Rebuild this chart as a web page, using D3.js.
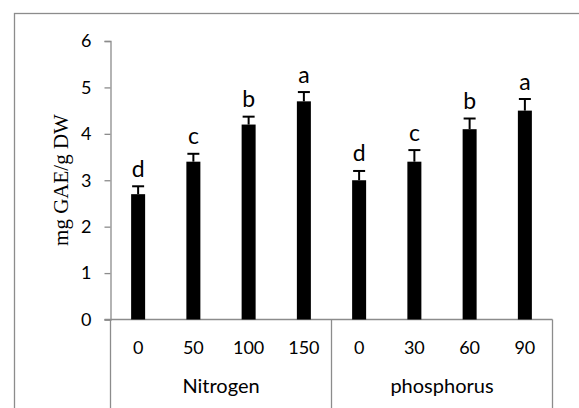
<!DOCTYPE html>
<html>
<head>
<meta charset="utf-8">
<script src="https://cdn.jsdelivr.net/npm/d3@7"></script>
<style>
  body { margin: 0; background: #fff; }
  svg { display: block; }
</style>
</head>
<body>
<div id="chart"></div>
<script>
// data
var groups = ["Nitrogen", "phosphorus"];
var doses = ["0", "50", "100", "150", "0", "30", "60", "90"];
var groupOf = [0, 0, 0, 0, 1, 1, 1, 1];
var values = [2.7, 3.4, 4.2, 4.7, 3.0, 3.4, 4.1, 4.5];
var errors = [0.17, 0.17, 0.17, 0.2, 0.2, 0.25, 0.23, 0.25];
var letters = ["d", "c", "b", "a", "d", "c", "b", "a"];
var yTicks = [0, 1, 2, 3, 4, 5, 6];

var width = 579, height = 408;
var axisColor = "#8c8c8c";
var sans = "Lato, 'Open Sans', sans-serif";

var svg = d3.select("#chart")
    .append("svg")
    .attr("width", width)
    .attr("height", height);

// outer chart frame (cut by the picture edge)
svg.append("rect")
    .attr("x", 14.5)
    .attr("y", 13.5)
    .attr("width", 600)
    .attr("height", 430)
    .attr("fill", "none")
    .attr("stroke", axisColor)
    .attr("stroke-width", 1.3);

var plot = { left: 110.5, right: 552.5, top: 41, bottom: 319.5 };

var x = d3.scaleBand()
    .domain(d3.range(doses.length))
    .range([plot.left, plot.right])
    .paddingInner(0)
    .paddingOuter(0);

var y = d3.scaleLinear()
    .domain([0, 6])
    .range([plot.bottom, plot.top]);

// y axis
var yAxis = d3.axisLeft(y)
    .tickValues(yTicks)
    .tickSize(6)
    .tickPadding(13)
    .tickFormat(d3.format("d"));

var gy = svg.append("g")
    .attr("transform", "translate(" + plot.left + ",0)")
    .call(yAxis);
gy.select(".domain").attr("stroke", axisColor).attr("stroke-width", 1.3);
gy.selectAll(".tick line").attr("stroke", axisColor).attr("stroke-width", 1.3);
gy.selectAll(".tick text")
    .attr("fill", "#000")
    .style("font-family", sans)
    .style("font-size", "18px");

// x axis baseline
svg.append("line")
    .attr("x1", plot.left - 6)
    .attr("x2", plot.right)
    .attr("y1", plot.bottom)
    .attr("y2", plot.bottom)
    .attr("stroke", axisColor)
    .attr("stroke-width", 1.3);

// group separators, running down to the bottom
var sepIdx = [0, 4, 8];
svg.selectAll(".sep")
    .data(sepIdx)
    .enter()
    .append("line")
    .attr("class", "sep")
    .attr("x1", function(d) { return d < doses.length ? x(d) : plot.right; })
    .attr("x2", function(d) { return d < doses.length ? x(d) : plot.right; })
    .attr("y1", plot.bottom)
    .attr("y2", height)
    .attr("stroke", axisColor)
    .attr("stroke-width", 1.3);

// bars
var barW = 14;
svg.selectAll(".bar")
    .data(values)
    .enter()
    .append("rect")
    .attr("class", "bar")
    .attr("x", function(d, i) { return x(i) + x.bandwidth() / 2 - barW / 2; })
    .attr("y", function(d) { return y(d); })
    .attr("width", barW)
    .attr("height", function(d) { return y(0) - y(d); })
    .attr("fill", "#000");

// error bars (upper only)
var eb = svg.selectAll(".err")
    .data(values)
    .enter()
    .append("g")
    .attr("class", "err");
eb.append("line")
    .attr("x1", function(d, i) { return x(i) + x.bandwidth() / 2; })
    .attr("x2", function(d, i) { return x(i) + x.bandwidth() / 2; })
    .attr("y1", function(d) { return y(d); })
    .attr("y2", function(d, i) { return y(d + errors[i]); })
    .attr("stroke", "#000")
    .attr("stroke-width", 2);
eb.append("line")
    .attr("x1", function(d, i) { return x(i) + x.bandwidth() / 2 - 6; })
    .attr("x2", function(d, i) { return x(i) + x.bandwidth() / 2 + 6; })
    .attr("y1", function(d, i) { return y(d + errors[i]); })
    .attr("y2", function(d, i) { return y(d + errors[i]); })
    .attr("stroke", "#000")
    .attr("stroke-width", 2);

// significance letters
svg.selectAll(".letter")
    .data(letters)
    .enter()
    .append("text")
    .attr("class", "letter")
    .attr("x", function(d, i) { return x(i) + x.bandwidth() / 2; })
    .attr("y", function(d, i) { return y(values[i] + errors[i]) - 9.5; })
    .attr("text-anchor", "middle")
    .style("font-family", sans)
    .style("font-size", "23px")
    .text(function(d) { return d; });

// dose labels
svg.selectAll(".dose")
    .data(doses)
    .enter()
    .append("text")
    .attr("class", "dose")
    .attr("x", function(d, i) { return x(i) + x.bandwidth() / 2; })
    .attr("y", 353.5)
    .attr("text-anchor", "middle")
    .style("font-family", sans)
    .style("font-size", "18px")
    .text(function(d) { return d; });

// group labels
svg.selectAll(".group")
    .data(groups)
    .enter()
    .append("text")
    .attr("class", "group")
    .attr("x", function(d, gi) {
        var idx = groupOf.map(function(g, i) { return g === gi ? i : -1; }).filter(function(i) { return i >= 0; });
        return (x(idx[0]) + x(idx[idx.length - 1]) + x.bandwidth()) / 2;
    })
    .attr("y", 393)
    .attr("text-anchor", "middle")
    .style("font-family", sans)
    .style("font-size", "20px")
    .text(function(d) { return d; });

// y axis title
svg.append("text")
    .attr("transform", "translate(68,180)rotate(-90)")
    .attr("text-anchor", "middle")
    .style("font-family", "'Liberation Serif', 'Times New Roman', serif")
    .style("font-size", "21px")
    .text("mg GAE/g DW");
</script>
</body>
</html>
